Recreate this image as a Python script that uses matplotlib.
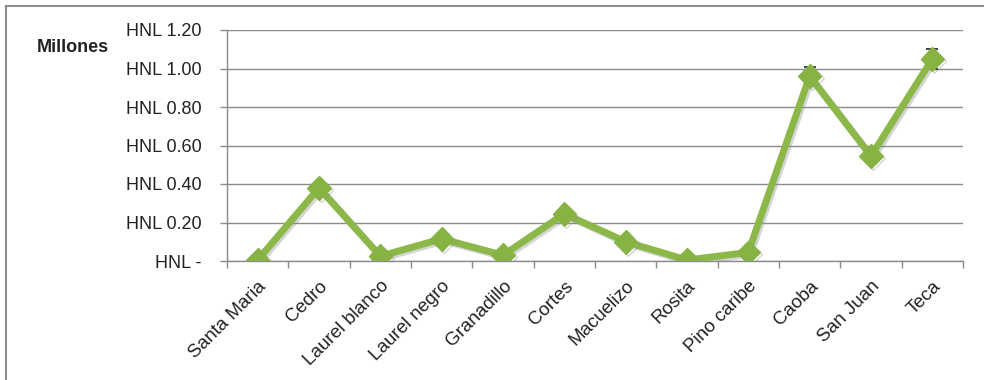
import matplotlib
matplotlib.use("Agg")
import matplotlib.pyplot as plt
from matplotlib.lines import Line2D
import matplotlib.patheffects as pe

plt.rcParams['font.family'] = ['Liberation Sans', 'DejaVu Sans']

categories = ["Santa Maria", "Cedro", "Laurel blanco", "Laurel negro", "Granadillo",
              "Cortes", "Macuelizo", "Rosita", "Pino caribe", "Caoba", "San Juan", "Teca"]
values = [0.005, 0.38, 0.025, 0.115, 0.03, 0.245, 0.10, 0.005, 0.045, 0.96, 0.545, 1.05]
errors = [0.0, 0.0, 0.0, 0.0, 0.0, 0.0, 0.0, 0.0, 0.0, 0.05, 0.02, 0.05]
yticks = [0.0, 0.2, 0.4, 0.6, 0.8, 1.0, 1.2]
ytick_labels = ["HNL -", "HNL 0.20", "HNL 0.40", "HNL 0.60", "HNL 0.80", "HNL 1.00", "HNL 1.20"]

fig = plt.figure(figsize=(9.84, 3.8), dpi=100)
ax = fig.add_axes([227/984, 1-261/380, (963-227)/984, (261-30)/380])

x = list(range(len(categories)))
green = "#8CB84A"
ax.errorbar(x, values, yerr=errors, fmt='none', ecolor='#222222', elinewidth=1.0,
            capsize=4, capthick=1.2, zorder=2)
ax.plot(x, values, color=green, linewidth=5, marker='D', markersize=12,
        markerfacecolor="#86B342", markeredgecolor="#86B342", zorder=3,
        path_effects=[pe.SimpleLineShadow(offset=(1.5, -1.5), shadow_color='#888888', alpha=0.35), pe.Normal()])

ax.set_xlim(-0.5, len(categories) - 0.5)
ax.set_ylim(0, 1.2)
ax.set_yticks(yticks)
ax.set_yticklabels(ytick_labels, fontsize=13, color='#222222')
ax.yaxis.grid(True, color='#8c8c8c', linewidth=1.0)
ax.set_axisbelow(True)

ax.set_xticks(x)
ax.set_xticklabels(categories, rotation=45, ha='right', va='top', rotation_mode='anchor',
                   fontsize=13.5, color='#222222')
ax.tick_params(axis='x', length=0, pad=12)
ax.set_xticks([i - 0.5 for i in range(len(categories) + 1)], minor=True)
ax.tick_params(axis='x', which='minor', length=5, color='#8c8c8c', width=1.0)
ax.tick_params(axis='y', length=5, color='#8c8c8c', width=1.0, pad=13.5)

for s in ['top', 'right']:
    ax.spines[s].set_visible(False)
for s in ['left', 'bottom']:
    ax.spines[s].set_color('#8c8c8c')
    ax.spines[s].set_linewidth(1.0)

fig.text(37/984, 1-47/380, "Millones", fontsize=13, fontweight='bold', ha='left', va='center', color='#222222')

# outer frame
fig.add_artist(Line2D([6/984, 1], [1-6/380, 1-6/380], transform=fig.transFigure, color='#8c8c8c', linewidth=1.5))
fig.add_artist(Line2D([6/984, 6/984], [0, 1-6/380], transform=fig.transFigure, color='#8c8c8c', linewidth=1.5))

fig.savefig("out.png", dpi=100)
